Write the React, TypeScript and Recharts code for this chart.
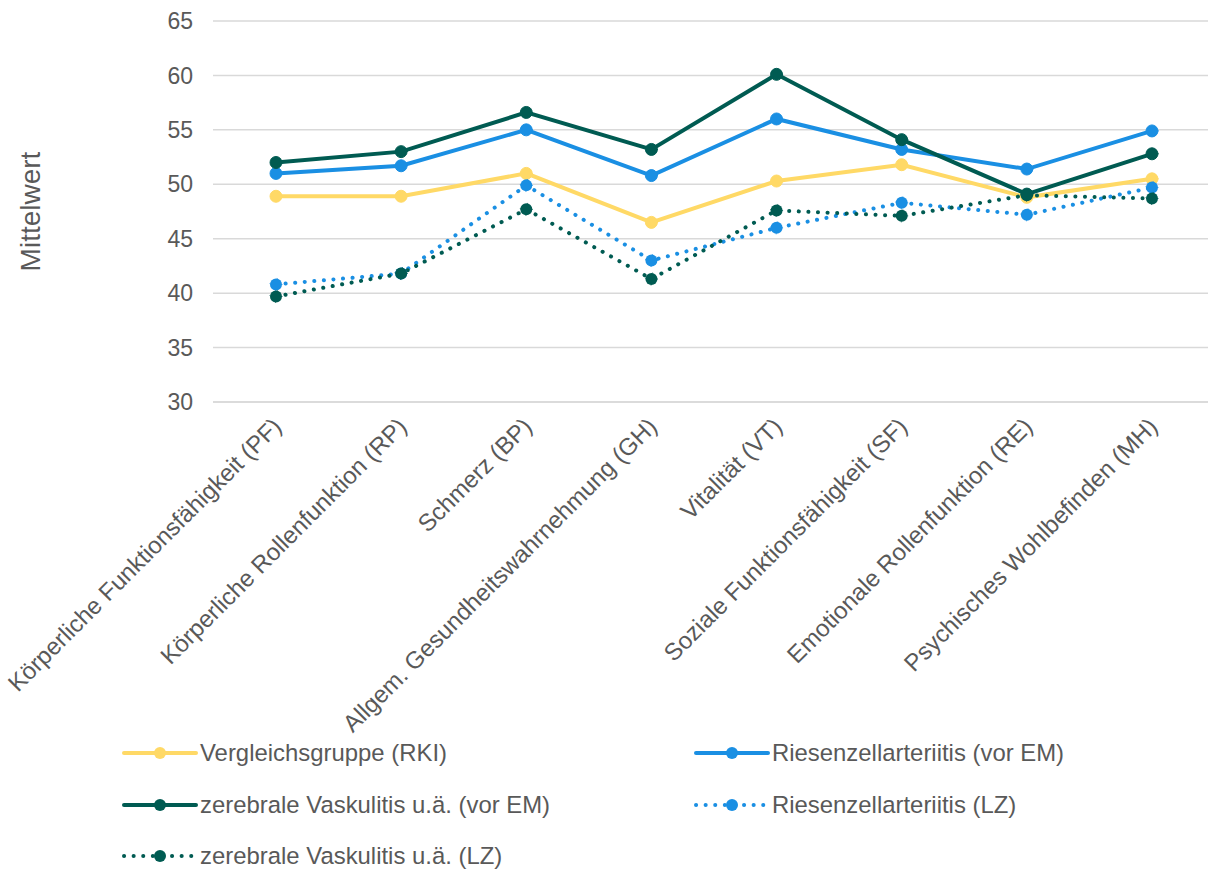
import React from "react";
import {
  LineChart,
  Line,
  XAxis,
  YAxis,
  CartesianGrid,
  Legend,
} from "recharts";

const categories = [
  "Körperliche Funktionsfähigkeit (PF)",
  "Körperliche Rollenfunktion (RP)",
  "Schmerz (BP)",
  "Allgem. Gesundheitswahrnehmung (GH)",
  "Vitalität (VT)",
  "Soziale Funktionsfähigkeit (SF)",
  "Emotionale Rollenfunktion (RE)",
  "Psychisches Wohlbefinden (MH)",
];

const vergleich = [48.9, 48.9, 51.0, 46.5, 50.3, 51.8, 48.8, 50.5];
const rzaVorEM = [51.0, 51.7, 55.0, 50.8, 56.0, 53.2, 51.4, 54.9];
const zvVorEM = [52.0, 53.0, 56.6, 53.2, 60.1, 54.1, 49.1, 52.8];
const rzaLZ = [40.8, 41.8, 49.9, 43.0, 46.0, 48.3, 47.2, 49.7];
const zvLZ = [39.7, 41.8, 47.7, 41.3, 47.6, 47.1, 49.0, 48.7];

const yTicks = [30, 35, 40, 45, 50, 55, 60, 65];

const FONT = '"Liberation Sans", Arial, sans-serif';
const TEXT = "#595959";
const YELLOW = "#FFD966";
const BLUE = "#1a8fe3";
const DARK = "#005b52";

const series = [
  { key: "vergleich", name: "Vergleichsgruppe (RKI)", color: YELLOW, dotted: false },
  { key: "rzaVorEM", name: "Riesenzellarteriitis (vor EM)", color: BLUE, dotted: false },
  { key: "zvVorEM", name: "zerebrale Vaskulitis u.ä. (vor EM)", color: DARK, dotted: false },
  { key: "rzaLZ", name: "Riesenzellarteriitis (LZ)", color: BLUE, dotted: true },
  { key: "zvLZ", name: "zerebrale Vaskulitis u.ä. (LZ)", color: DARK, dotted: true },
];

const data = categories.map((cat, i) => ({
  cat,
  vergleich: vergleich[i],
  rzaVorEM: rzaVorEM[i],
  zvVorEM: zvVorEM[i],
  rzaLZ: rzaLZ[i],
  zvLZ: zvLZ[i],
}));

function XTick(props: any) {
  const { x, y, payload } = props;
  return (
    <g transform={`translate(${x + 7},${y + 18})`}>
      <text
        x={0}
        y={0}
        textAnchor="end"
        transform="rotate(-45)"
        fill={TEXT}
        fontSize={24}
        fontFamily={FONT}
      >
        {payload.value}
      </text>
    </g>
  );
}

function LegendMark({ color, dotted }: { color: string; dotted: boolean }) {
  return (
    <svg width={76} height={16} style={{ display: "block" }}>
      <line
        x1={2}
        y1={8}
        x2={74}
        y2={8}
        stroke={color}
        strokeWidth={4}
        strokeLinecap="round"
        strokeDasharray={dotted ? "0.1 9.5" : undefined}
      />
      <circle cx={38} cy={8} r={6} fill={color} />
    </svg>
  );
}

function LegendBox() {
  return (
    <div style={{ position: "relative", width: 1208, height: 135, fontFamily: FONT }}>
      {series.map((s, i) => {
        const col = i % 2;
        const row = Math.floor(i / 2);
        return (
          <div
            key={s.key}
            style={{
              position: "absolute",
              left: col === 0 ? 122 : 694,
              top: 18 + row * 51.5 - 14,
              height: 28,
              display: "flex",
              alignItems: "center",
              gap: 2,
              fontSize: 23.9,
              color: TEXT,
              whiteSpace: "nowrap",
            }}
          >
            <LegendMark color={s.color} dotted={s.dotted} />
            <span>{s.name}</span>
          </div>
        );
      })}
    </div>
  );
}

export default function App() {
  return (
    <div style={{ width: 1208, height: 870, background: "#fff" }}>
      <style>{`body{margin:0}`}</style>
      <LineChart
        width={1208}
        height={870}
        data={data}
        margin={{ top: 21, right: 0, bottom: 0, left: 0 }}
      >
        <CartesianGrid vertical={false} stroke="#d9d9d9" strokeWidth={1.5} />
        <XAxis
          dataKey="cat"
          interval={0}
          height={333}
          tick={<XTick />}
          tickLine={false}
          axisLine={{ stroke: "#d9d9d9", strokeWidth: 1.5 }}
          padding={{ left: 63, right: 56 }}
        />
        <YAxis
          domain={[30, 65]}
          ticks={yTicks}
          width={213}
          axisLine={false}
          tickLine={false}
          tickMargin={14}
          tick={{ fill: TEXT, fontSize: 23, fontFamily: FONT }}
          label={{
            value: "Mittelwert",
            angle: -90,
            position: "insideLeft",
            offset: 30,
            style: { textAnchor: "middle", fill: TEXT, fontSize: 28, fontFamily: FONT },
          }}
        />
        <Legend verticalAlign="bottom" content={<LegendBox />} />
        {series.map((s) => (
          <Line
            key={s.key}
            type="linear"
            dataKey={s.key}
            name={s.name}
            stroke={s.color}
            strokeWidth={4}
            strokeLinecap="round"
            strokeDasharray={s.dotted ? "0.1 9.5" : undefined}
            dot={{ r: 6, fill: s.color, stroke: s.color, strokeWidth: 1 }}
            activeDot={false}
            isAnimationActive={false}
          />
        ))}
      </LineChart>
    </div>
  );
}
